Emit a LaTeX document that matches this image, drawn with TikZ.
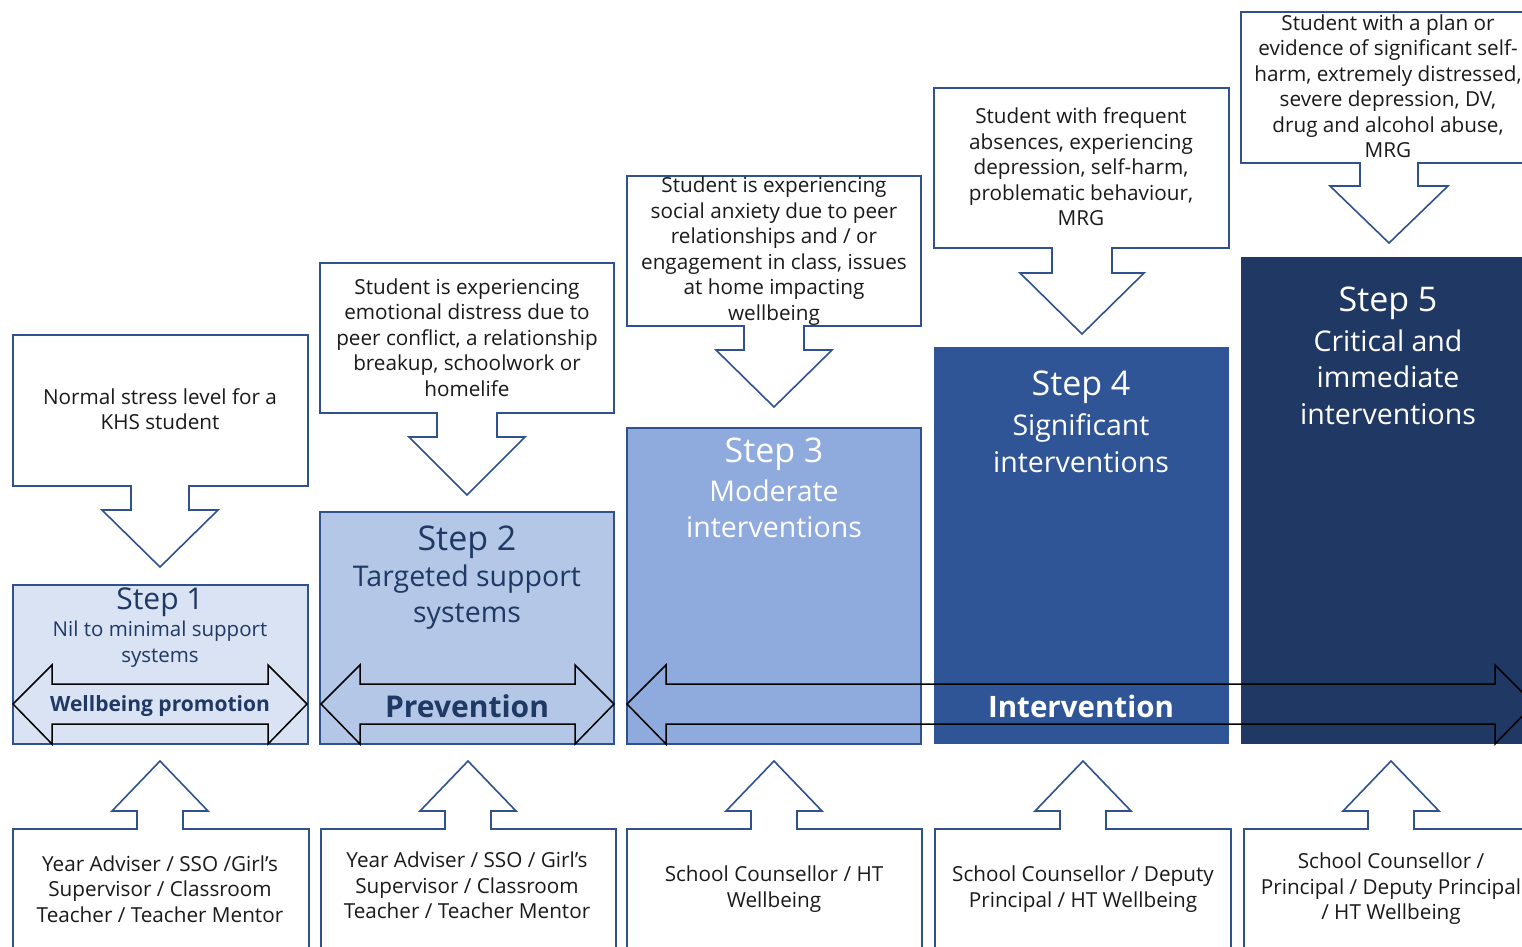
\documentclass[tikz,border=0pt]{standalone}
\usepackage{fontspec}
\setmainfont{Open Sans}
\definecolor{sOne}{HTML}{DAE3F3}
\definecolor{sTwo}{HTML}{B4C7E7}
\definecolor{sThree}{HTML}{8FAADC}
\definecolor{sFour}{HTML}{2F5597}
\definecolor{sFive}{HTML}{203864}
\definecolor{edge}{HTML}{2F528F}
\definecolor{navy}{HTML}{1F3864}
\definecolor{ink}{HTML}{1A1A1A}
\newcommand{\calldown}[9]{\draw[callout] (#1,#3) -- (#2,#3) -- (#2,#4) -- ({#5+#6},#4) -- ({#5+#6},#8) -- ({#5+#7},#8) -- (#5,#9) -- ({#5-#7},#8) -- ({#5-#6},#8) -- ({#5-#6},#4) -- (#1,#4) -- cycle;}
\newcommand{\callup}[3]{\draw[callout] (#1,960) -- (#1,829) -- ({#3-23},829) -- ({#3-23},811) -- ({#3-48},811) -- (#3,761) -- ({#3+48},811) -- ({#3+23},811) -- ({#3+23},829) -- (#2,829) -- (#2,960);}
\newcommand{\dblarrow}[2]{\draw[dbl] (#1,704) -- ({#1+39},665) -- ({#1+39},684) -- ({#2-39},684) -- ({#2-39},665) -- (#2,704) -- ({#2-39},744) -- ({#2-39},724) -- ({#1+39},724) -- ({#1+39},744) -- cycle;}
\tikzset{
  callout/.style={draw=edge, line width=1.6pt, fill=white, line join=miter},
  stepbox/.style={draw=edge, line width=1.2pt},
  dbl/.style={draw=black, line width=1.5pt, line join=miter},
  ctext/.style={align=center, text=ink, font=\fontsize{20.7}{25.5}\selectfont, inner sep=0pt},
  title/.style={align=center, inner sep=0pt, font=\fontsize{34}{37}\selectfont},
  sub/.style={align=center, inner sep=0pt, font=\fontsize{28.5}{36.5}\selectfont},
  lbl/.style={inner sep=0pt, font=\fontsize{30}{32}\selectfont\bfseries},
}
\begin{document}
\begin{tikzpicture}[x=1pt,y=-1pt]
\clip (0,0) rectangle (1522,946);
\fill[white] (0,0) rectangle (1522,946);
% step boxes
\draw[stepbox, fill=sOne] (13,585) rectangle (308,744);
\draw[stepbox, fill=sTwo] (320,512) rectangle (614,744);
\draw[stepbox, fill=sThree] (627,428) rectangle (921,744);
\fill[sFour] (934,347) rectangle (1229,744);
\fill[sFive] (1241,257) rectangle (1540,744);
% top callouts
\calldown{13}{308}{335}{486}{160}{29}{58}{510}{567}
\calldown{320}{614}{263}{413}{467}{30}{58}{437}{495}
\calldown{627}{921}{176}{326}{774}{30}{58}{350}{407}
\calldown{934}{1229}{88}{248}{1082}{30}{62}{273}{334}
\calldown{1241}{1540}{12}{163}{1389}{29}{59}{186}{243}
% bottom callouts
\callup{13}{309}{160}
\callup{321}{616}{468}
\callup{627}{922}{774}
\callup{935}{1231}{1083}
\callup{1244}{1540}{1391}
% double arrows
\dblarrow{13}{307}
\dblarrow{321}{614}
\dblarrow{627}{1534}
% callout texts
\node[ctext] (c1) at (160,409) {Normal stress level for a\\KHS student};
\node[ctext] (c2) at (467,337.5) {Student is experiencing\\emotional distress due to\\peer conflict, a relationship\\breakup, schoolwork or\\homelife};
\node[ctext] (c3) at (774,251) {Student is experiencing\\social anxiety due to peer\\relationships and / or\\engagement in class, issues\\at home impacting\\wellbeing};
\node[ctext] (c4) at (1081,167) {Student with frequent\\absences, experiencing\\depression, self-harm,\\problematic behaviour,\\MRG};
\node[ctext] (c5) at (1388,86) {Student with a plan or\\evidence of significant self-\\harm, extremely distressed,\\severe depression, DV,\\drug and alcohol abuse,\\MRG};
% step titles
\node[title, text=navy, font=\fontsize{30}{34}\selectfont] (t1) at (160,602) {Step 1};
\node[ctext, text=navy, font=\fontsize{20.5}{25.5}\selectfont] (s1) at (160,644) {Nil to minimal support\\systems};
\node[title, text=navy] (t2) at (467,542) {Step 2};
\node[sub, text=navy] (s2) at (467,597) {Targeted support\\systems};
\node[title, text=white] (t3) at (774,454) {Step 3};
\node[sub, text=white] (s3) at (774,509) {Moderate\\interventions};
\node[title, text=white] (t4) at (1081,387) {Step 4};
\node[sub, text=white] (s4) at (1081,443) {Significant\\interventions};
\node[title, text=white] (t5) at (1388,303) {Step 5};
\node[sub, text=white] (s5) at (1388,377) {Critical and\\immediate\\interventions};
% arrow labels
\node[lbl, text=navy, font=\fontsize{21}{24}\selectfont\bfseries] (a1) at (160,706) {Wellbeing promotion};
\node[lbl, text=navy] (a2) at (467,706) {Prevention};
\node[lbl, text=white, font=\fontsize{29.5}{32}\selectfont\bfseries] (a3) at (1081,706) {Intervention};
% bottom texts
\node[ctext] (b1) at (160,889) {Year Adviser / SSO /Girl's\\Supervisor / Classroom\\Teacher / Teacher Mentor};
\node[ctext] (b2) at (467,885.5) {Year Adviser / SSO / Girl's\\Supervisor / Classroom\\Teacher / Teacher Mentor};
\node[ctext] (b3) at (774,889) {School Counsellor / HT\\Wellbeing};
\node[ctext] (b4) at (1083,889) {School Counsellor / Deputy\\Principal / HT Wellbeing};
\node[ctext] (b5) at (1391,889) {School Counsellor /\\Principal / Deputy Principal\\/ HT Wellbeing};
\end{tikzpicture}
\end{document}
